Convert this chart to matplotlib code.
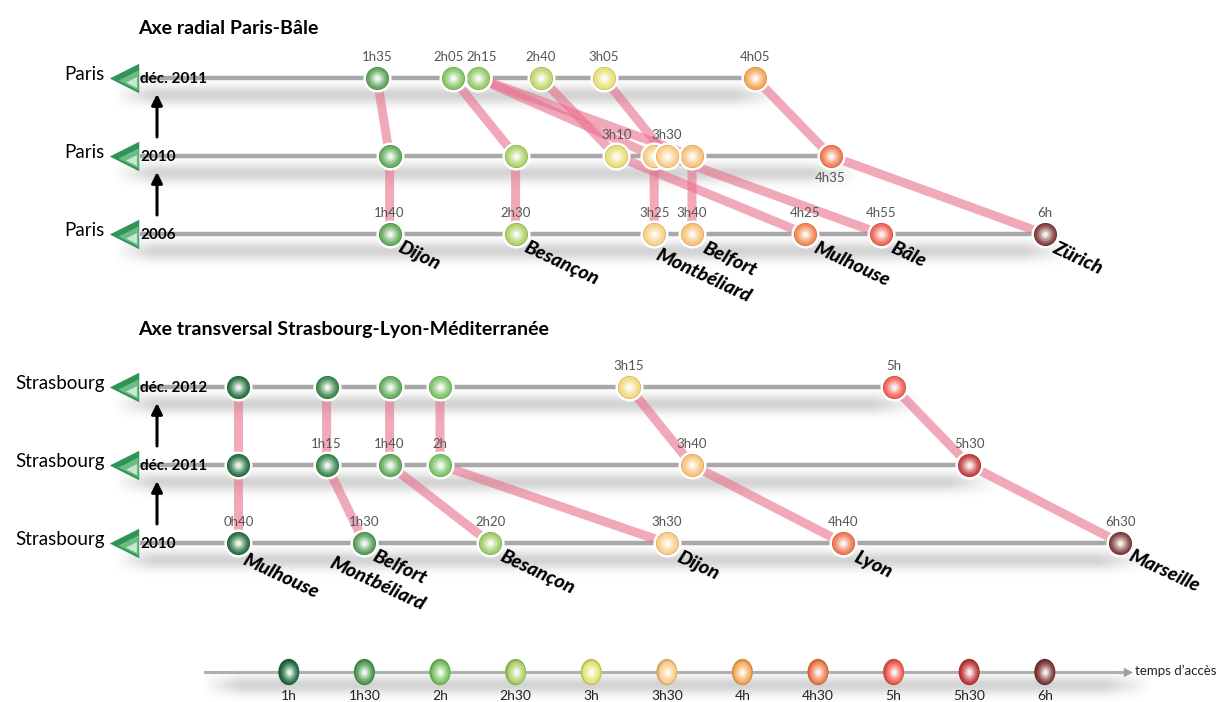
import numpy as np
import matplotlib.pyplot as plt
from matplotlib import font_manager
from matplotlib.colors import LinearSegmentedColormap, to_rgb
from matplotlib.path import Path
from matplotlib.transforms import Affine2D

installed = {f.name for f in font_manager.fontManager.ttflist}
COND = 'Liberation Sans Narrow' if 'Liberation Sans Narrow' in installed else 'Lato'
plt.rcParams['font.family'] = ['Lato', 'DejaVu Sans']

# colour scale of access times (legend)
scale_hours = [1, 1.5, 2, 2.5, 3, 3.5, 4, 4.5, 5, 5.5, 6]
scale_labels = ['1h', '1h30', '2h', '2h30', '3h', '3h30', '4h', '4h30', '5h', '5h30', '6h']
scale_colors = ['#1f6e3d', '#4f9b52', '#76c05e', '#abcf60', '#e2e36a', '#fbc981',
                '#f6a853', '#ef7b4a', '#ee5a4d', '#c43a3c', '#7d3837']

# Axe radial Paris-Bale
paris_title = 'Axe radial Paris-Bâle'
paris_origin = 'Paris'
paris_years = ['déc. 2011', '2010', '2006']
paris_cities = ['Dijon', 'Montbéliard', 'Belfort', 'Besançon', 'Mulhouse', 'Bâle', 'Zürich']
paris_dec2011 = ['1h35', '2h15', '2h15', '2h05', '2h40', '3h05', '4h05']
paris_2010 = ['1h40', '3h25', '3h40', '2h30', '3h10', '3h30', '4h35']
paris_2006 = ['1h40', '3h25', '3h40', '2h30', '4h25', '4h55', '6h']

# Axe transversal Strasbourg-Lyon-Mediterranee
stras_title = 'Axe transversal Strasbourg-Lyon-Méditerranée'
stras_origin = 'Strasbourg'
stras_years = ['déc. 2012', 'déc. 2011', '2010']
stras_cities = ['Mulhouse', 'Belfort\nMontbéliard', 'Besançon', 'Dijon', 'Lyon', 'Marseille']
stras_dec2012 = ['0h40', '1h15', '1h40', '2h', '3h15', '5h']
stras_dec2011 = ['0h40', '1h15', '1h40', '2h', '3h40', '5h30']
stras_2010 = ['0h40', '1h30', '2h20', '3h30', '4h40', '6h30']

# where the time tags go on each row ('a' above, 'b' below, '' none), with x nudges in px
paris_tags = [['a', 'a', '', 'a', 'a', 'a', 'a'],
              ['', '', '', '', 'a', 'a', 'b'],
              ['a', 'a', 'a', 'a', 'a', 'a', 'a']]
paris_tag_dx = [[0, 4, 0, -4, 0, 0, 0], [0] * 7, [0] * 7]
stras_tags = [['', '', '', '', 'a', 'a'],
              ['', 'a', 'a', 'a', 'a', 'a'],
              ['a', 'a', 'a', 'a', 'a', 'a']]
stras_tag_dx = [[0] * 6, [0] * 6, [0] * 6]
# offsets (px) of the city names from the last circle, one per text line
paris_name_off = [[(13, 5)], [(6, 12)], [(15, 5)], [(13, 5)], [(13, 5)], [(14, 5)], [(13, 5)]]
stras_name_off = [[(9, 8)], [(13, 4), (-30, 11)], [(14, 5)], [(15, 6)], [(15, 6)], [(13, 4)]]

X0, PXH = 137.6, 151.2   # pixel of 0h, pixels per hour


def hx(px):
    return (px - X0) / PXH


def hours(s):
    hh, _, mm = s.partition('h')
    return int(hh) + (int(mm) if mm else 0) / 60


cmap = LinearSegmentedColormap.from_list(
    'acces', list(zip([(h - 1) / 5 for h in scale_hours], scale_colors)))


def tcolor(t):
    return np.array(to_rgb(cmap(float(min(max((t - 1) / 5, 0.0), 1.0)))))


fig = plt.figure(figsize=(12.2, 7.02), dpi=100)
ax = fig.add_axes([0, 0, 1, 1])
ax.axis('off')

zc = [10]


def ball(x, y, t, size=340, marker='o', edge=True):
    base = tcolor(t)
    zc[0] += 1
    z = zc[0]
    ax.scatter([x], [y], s=size, marker=marker, color=base * 0.85,
               edgecolors='white' if edge else 'none', linewidths=1.8, zorder=z)
    for f, m in [(0.72, 0.06), (0.48, 0.22), (0.28, 0.45), (0.12, 0.7), (0.04, 0.9)]:
        ax.scatter([x], [y], s=size * f, marker=marker, color=base + (1 - base) * m,
                   linewidths=0, zorder=z)


def shadow(y, x_end, x_start_px=112, depth=45):
    x0 = hx(x_start_px)
    x1 = x_end + 30 / PXH
    W, H = 400, 60
    yy = np.linspace(0, depth, H)
    prof = np.exp(-((yy - 17) / 9.5) ** 2)
    xx = np.linspace(0, 1, W)
    wpx = (x1 - x0) * PXH
    fade = np.clip(xx * wpx / 40, 0, 1) * np.clip((1 - xx) * wpx / 50, 0, 1)
    img = np.zeros((H, W, 4))
    img[..., 3] = 0.17 * prof[:, None] * fade[None, :]
    ax.imshow(img, extent=[x0, x1, y + depth, y], aspect='auto', zorder=1,
              interpolation='bilinear')


def panel(title, title_y, origin, years, cities, rows, row_y, tags, tag_dx, name_off):
    times = [[hours(s) for s in r] for r in rows]
    ax.text(hx(138), title_y, title, fontsize=14, fontweight='bold', family=[COND, 'DejaVu Sans'],
            ha='left', va='center')
    for i, (yr, y, t) in enumerate(zip(years, row_y, times)):
        shadow(y, max(t))
        ax.plot([hx(140), max(t)], [y, y], color='#a8a8a8', lw=3.2, solid_capstyle='butt', zorder=2)
        ax.text(hx(105), y - 4, origin, ha='right', va='center', fontsize=13.5)
        ax.scatter([hx(124)], [y], marker='<', s=450, color='#2f9556', linewidths=0, zorder=4)
        ax.scatter([hx(128)], [y + 2], marker='<', s=210, color='#6dbb85', linewidths=0, zorder=4)
        ax.scatter([hx(131)], [y + 4], marker='<', s=60, color='#c9e8d2', linewidths=0, zorder=4)
        ax.text(hx(140), y + 1, yr, fontsize=11, fontweight='bold', family=[COND, 'DejaVu Sans'],
                ha='left', va='center', zorder=30)
        if i > 0:
            ax.annotate('', xy=(hx(157), row_y[i - 1] + 16), xytext=(hx(157), y - 19),
                        arrowprops=dict(arrowstyle='-|>', color='black', lw=2.2,
                                        mutation_scale=16, shrinkA=0, shrinkB=0), zorder=5)
    for c in range(len(cities)):
        ax.plot([t[c] for t in times], row_y, color='#e8708c', alpha=0.6, lw=6.5,
                solid_capstyle='butt', zorder=3)
    for r, (y, t, lab) in enumerate(zip(row_y, times, rows)):
        for c in range(len(cities)):
            ball(t[c], y, t[c])
            if tags[r][c]:
                ty = y - 21 if tags[r][c] == 'a' else y + 22
                ax.text(t[c] + tag_dx[r][c] / PXH, ty, lab[c], fontsize=9.5, color='#555555',
                        family=[COND, 'DejaVu Sans'], ha='center', va='center', zorder=40)
    y_last = row_y[-1]
    for c, name in enumerate(cities):
        for line, (dx, dy) in zip(name.split('\n'), name_off[c]):
            ax.text(times[-1][c] + dx / PXH, y_last + dy, line, fontsize=14, fontweight=900,
                    fontstyle='italic', rotation=-25, rotation_mode='anchor',
                    ha='left', va='top', zorder=40)


panel(paris_title, 28, paris_origin, paris_years, paris_cities,
      [paris_dec2011, paris_2010, paris_2006], [78, 156, 234], paris_tags, paris_tag_dx,
      paris_name_off)
panel(stras_title, 330, stras_origin, stras_years, stras_cities,
      [stras_dec2012, stras_dec2011, stras_2010], [387, 465, 543], stras_tags, stras_tag_dx,
      stras_name_off)

# legend
ly = 672
shadow(ly - 4, hx(1125), x_start_px=200, depth=34)
ax.plot([hx(205), hx(1126)], [ly, ly], color='#b0b0b0', lw=2.2, zorder=2)
ax.scatter([hx(1128)], [ly], marker='>', s=45, color='#a0a0a0', linewidths=0, zorder=2)
ax.text(hx(1135), ly - 1, 'temps d’accès', fontsize=9.5, family=[COND, 'DejaVu Sans'],
        ha='left', va='center', color='#222222')
oval = Path.unit_circle().transformed(Affine2D().scale(0.8, 1.0))
for h, lab in zip(scale_hours, scale_labels):
    ball(h, ly, h, size=360, marker=oval, edge=False)
    ax.text(h, ly + 24, lab, fontsize=10, family=[COND, 'DejaVu Sans'], ha='center', va='center',
            color='#222222')

ax.set_xlim(hx(0), hx(1220))
ax.set_ylim(702, 0)
fig.savefig('out.png', dpi=100)
